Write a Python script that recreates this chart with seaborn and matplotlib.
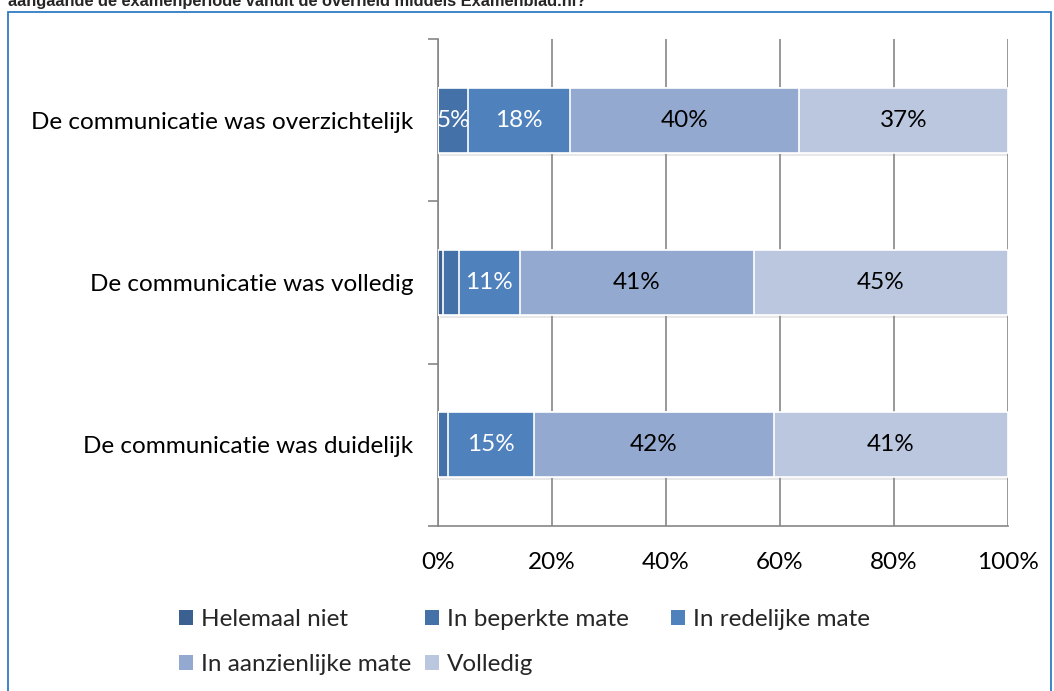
import numpy as np
import pandas as pd
import matplotlib
matplotlib.use("Agg")
import matplotlib.pyplot as plt
import matplotlib.patheffects as pe
from matplotlib.patches import Patch, Rectangle
from matplotlib.ticker import FixedLocator
import seaborn as sns

# Data (percentages per statement)
categories = [
    "De communicatie was overzichtelijk",
    "De communicatie was volledig",
    "De communicatie was duidelijk",
]
levels = ["Helemaal niet", "In beperkte mate", "In redelijke mate",
          "In aanzienlijke mate", "Volledig"]
helemaal_niet = [0.0, 0.9, 0.0]
beperkte_mate = [5.3, 2.7, 1.8]
redelijke_mate = [17.9, 10.8, 15.1]
aanzienlijke_mate = [40.1, 41.0, 42.0]
volledig = [36.7, 44.6, 41.1]
x_ticks = [0, 20, 40, 60, 80, 100]
title = "aangaande de examenperiode vanuit de overheid middels Examenblad.nl?"

colors = ["#3b6192", "#4571a9", "#4f81bd", "#94a9d0", "#bac7df"]
label_colors = ["white", "white", "white", "black", "black"]
FS = 17.5

df = pd.DataFrame({
    "categorie": categories,
    levels[0]: helemaal_niet,
    levels[1]: beperkte_mate,
    levels[2]: redelijke_mate,
    levels[3]: aanzienlijke_mate,
    levels[4]: volledig,
})
cum = df[levels].cumsum(axis=1)
cum["categorie"] = categories

sns.set_style("white")
plt.rcParams["font.family"] = ["Lato", "DejaVu Sans"]

fig = plt.figure(figsize=(10.54, 6.91), dpi=100)
ax = fig.add_axes([438 / 1054, 1 - 526 / 691, 570 / 1054, 487 / 691])

# stacked bars: draw cumulative totals from the longest to the shortest
for i in range(len(levels) - 1, -1, -1):
    sns.barplot(data=cum, x=levels[i], y="categorie", order=categories,
                orient="h", color=colors[i], saturation=1, width=0.4,
                edgecolor="white", linewidth=1.2, ax=ax, zorder=3)
    if i == len(levels) - 1:
        for bar in ax.patches:
            bar.set_path_effects([pe.SimplePatchShadow(offset=(1.2, -2.2),
                                                       shadow_rgbFace="#909090",
                                                       alpha=0.2), pe.Normal()])

# value labels in the middle of each segment
for r, cat in enumerate(categories):
    left = 0.0
    for i, lev in enumerate(levels):
        v = df.loc[r, lev]
        if v >= 5:
            ax.text(left + v / 2, r, f"{v:.0f}%", ha="center", va="center",
                    color=label_colors[i], fontsize=FS, zorder=5)
        left += v

ax.set_xlim(0, 100)
ax.set_ylim(2.5, -0.5)
ax.set_xlabel("")
ax.set_ylabel("")
ax.xaxis.set_major_locator(FixedLocator(x_ticks))
ax.set_xticklabels([f"{t}%" for t in x_ticks])
ax.yaxis.set_minor_locator(FixedLocator([-0.5, 0.5, 1.5, 2.5]))
ax.tick_params(axis="x", length=7, width=1.2, color="#868686", labelsize=FS,
               pad=12, labelcolor="black")
ax.tick_params(axis="y", which="major", length=0, labelsize=FS, pad=18,
               labelcolor="black")
ax.tick_params(axis="y", which="minor", length=7, width=1.2, color="#868686",
               left=True)
ax.grid(axis="x", color="#868686", linewidth=1.2, zorder=0)
ax.set_axisbelow(True)
for side in ["top", "right"]:
    ax.spines[side].set_visible(False)
for side in ["left", "bottom"]:
    ax.spines[side].set_color("#868686")
    ax.spines[side].set_linewidth(1.2)

# legend laid out in equal-width columns, row by row
handles = [Patch(facecolor=c, edgecolor="none") for c in colors]
columns = [[0, 3], [1, 4], [2]]
col_x = [179, 425, 671]
for xs, idx in zip(col_x, columns):
    fig.legend([handles[k] for k in idx], [levels[k] for k in idx],
               loc="upper left", bbox_to_anchor=(xs / 1054, 1 - 609 / 691),
               frameon=False, fontsize=FS, handlelength=0.58, handleheight=0.58,
               handletextpad=0.33, labelspacing=1.0, borderpad=0,
               borderaxespad=0)

# cut-off question above the frame, and the blue frame itself
fig.text(8 / 1054, 1 - 6 / 691, title, fontsize=11.8, fontweight="bold",
         family="Liberation Sans", va="baseline", ha="left")
fig.patches.append(Rectangle((8 / 1054, -0.05), 1043 / 1054, 1.05 - 12 / 691,
                             transform=fig.transFigure, fill=False,
                             edgecolor="#2f7cc4", linewidth=1.3))

fig.savefig("out.png", dpi=100)
